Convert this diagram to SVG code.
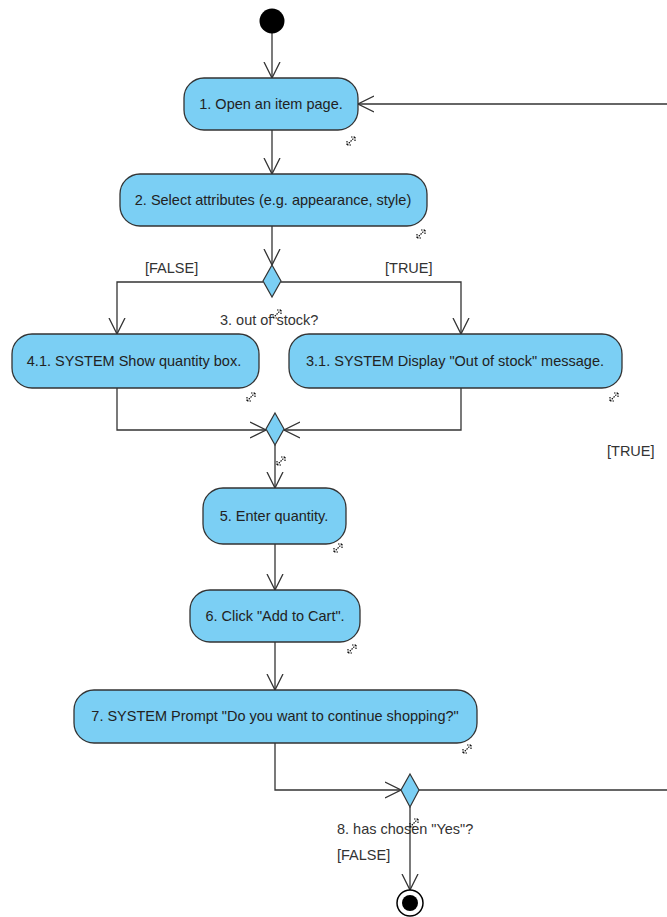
<svg xmlns="http://www.w3.org/2000/svg" width="667" height="917" viewBox="0 0 667 917">
<style>
.act{fill:#7BCFF4;stroke:#333;stroke-width:1.3}
.dec{fill:#7BCFF4;stroke:#333;stroke-width:1.2}
.t{font-family:"Liberation Sans",Arial,sans-serif;font-size:14.5px;fill:#222;text-anchor:middle}
.l{font-family:"Liberation Sans",Arial,sans-serif;font-size:14.5px;fill:#333}
.c{fill:none;stroke:#333;stroke-width:1.3}
.ic{fill:none;stroke:#111;stroke-width:1.2;stroke-dasharray:1.5 1}
</style>
<defs>
<marker id="arr" viewBox="0 0 16 18" refX="16" refY="9" markerWidth="16" markerHeight="18" markerUnits="userSpaceOnUse" orient="auto">
<path d="M0,1 L16,9 L0,17" fill="none" stroke="#333" stroke-width="1.3"/>
</marker>
<g id="rz"><path class="ic" d="M-4,4 L4,-4 M-4,4 L-4,0 M-4,4 L0,4 M4,-4 L0,-4 M4,-4 L4,0"/></g>
</defs>
<rect width="667" height="917" fill="#fff"/>
<g id="connectors">
<path class="c" marker-end="url(#arr)" d="M272,33 L272,78"/>
<path class="c" marker-end="url(#arr)" d="M667,104 L358,104"/>
<path class="c" marker-end="url(#arr)" d="M272,130 L272,174"/>
<path class="c" marker-end="url(#arr)" d="M272,226 L272,265"/>
<path class="c" marker-end="url(#arr)" d="M263,282 L117,282 L117,334"/>
<path class="c" marker-end="url(#arr)" d="M281,282 L461,282 L461,334"/>
<path class="c" marker-end="url(#arr)" d="M117,388 L117,430 L266,430"/>
<path class="c" marker-end="url(#arr)" d="M461,388 L461,430 L284,430"/>
<path class="c" marker-end="url(#arr)" d="M275,445 L275,488"/>
<path class="c" marker-end="url(#arr)" d="M275,544 L275,590"/>
<path class="c" marker-end="url(#arr)" d="M275,642 L275,690"/>
<path class="c" marker-end="url(#arr)" d="M275,743 L275,790 L401,790"/>
<path class="c" d="M419,790 L667,790"/>
<path class="c" marker-end="url(#arr)" d="M410,807 L410,890"/>
<text class="l" x="145" y="273">[FALSE]</text>
<text class="l" x="385" y="273">[TRUE]</text>
<text class="l" x="607" y="456">[TRUE]</text>
<text class="l" x="337" y="860">[FALSE]</text>
</g>
<g id="start"><circle cx="272" cy="21" r="12.5" fill="#000"/></g>
<g id="n1"><rect class="act" x="184" y="78" width="174" height="52" rx="20"/><text class="t" x="271" y="109">1. Open an item page.</text><use href="#rz" x="351" y="141"/></g>
<g id="n2"><rect class="act" x="120" y="174" width="307" height="52" rx="20"/><text class="t" x="273" y="205">2. Select attributes (e.g. appearance, style)</text><use href="#rz" x="421" y="234"/></g>
<g id="d3"><polygon class="dec" points="272,265 281,281 272,297 263,281"/><text class="l" x="220" y="325">3. out of stock?</text><use href="#rz" x="277" y="314"/></g>
<g id="n41"><rect class="act" x="12" y="334" width="247" height="54" rx="20"/><text class="t" x="134" y="366">4.1. SYSTEM Show quantity box.</text><use href="#rz" x="251" y="397"/></g>
<g id="n31"><rect class="act" x="289" y="334" width="333" height="54" rx="20"/><text class="t" x="455" y="366">3.1. SYSTEM Display "Out of stock" message.</text><use href="#rz" x="614" y="397"/></g>
<g id="m4"><polygon class="dec" points="275,413 284,429 275,445 266,429"/><use href="#rz" x="281" y="461"/></g>
<g id="n5"><rect class="act" x="203" y="488" width="143" height="56" rx="20"/><text class="t" x="274" y="521">5. Enter quantity.</text><use href="#rz" x="338" y="548"/></g>
<g id="n6"><rect class="act" x="190" y="590" width="170" height="52" rx="20"/><text class="t" x="275" y="621">6. Click "Add to Cart".</text><use href="#rz" x="352" y="649"/></g>
<g id="n7"><rect class="act" x="74" y="690" width="403" height="53" rx="20"/><text class="t" x="275" y="721">7. SYSTEM Prompt "Do you want to continue shopping?"</text><use href="#rz" x="467" y="749"/></g>
<g id="d8"><polygon class="dec" points="410,774 419,790 410,807 401,790"/><text class="l" x="337" y="834">8. has chosen "Yes"?</text><use href="#rz" x="414" y="823"/></g>
<g id="end"><circle cx="410" cy="903" r="13" fill="#fff" stroke="#000" stroke-width="1.5"/><circle cx="410" cy="903" r="8" fill="#000"/></g>
</svg>
